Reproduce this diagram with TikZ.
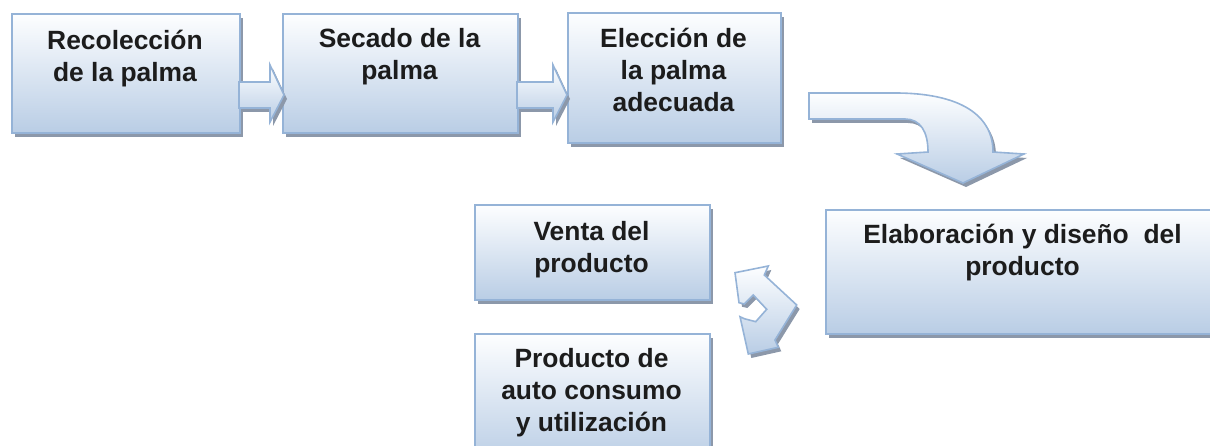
\documentclass[tikz,border=0pt]{standalone}
\usepackage{fontspec}
\setmainfont{Liberation Sans}
\usetikzlibrary{shadows}
\definecolor{bordercol}{RGB}{149,179,215}
\definecolor{boxbot}{RGB}{185,205,229}
\definecolor{boxtop}{RGB}{253,254,255}
\definecolor{shadowcol}{RGB}{140,152,170}
\definecolor{txtcol}{RGB}{28,28,28}
\begin{document}
\begin{tikzpicture}[x=1pt,y=-1pt,
  myshadow/.style={drop shadow={shadow xshift=3pt,shadow yshift=-4pt,fill=shadowcol,opacity=1}},
  boxstyle/.style={rectangle, draw=bordercol, line width=2pt, top color=boxtop, bottom color=boxbot,
    myshadow, inner sep=0pt, anchor=north west},
  shapestyle/.style={draw=bordercol, line width=1.6pt, line join=miter, top color=boxtop, bottom color=boxbot, myshadow},
  txt/.style={font=\fontsize{26.4}{32}\selectfont\bfseries, text=txtcol, align=center, anchor=north, inner sep=0pt}]
\path[use as bounding box, clip] (0,0) rectangle (1210,446);

% boxes
\node[boxstyle, minimum width=228pt, minimum height=119pt] (b1) at (11,13) {};
\node[boxstyle, minimum width=235pt, minimum height=119pt] (b2) at (282,13) {};
\node[boxstyle, minimum width=213pt, minimum height=130pt] (b3) at (567,12) {};
\node[boxstyle, minimum width=400pt, minimum height=124pt] (b4) at (825,209) {};
\node[boxstyle, minimum width=235pt, minimum height=95pt] (b5) at (474,204) {};
\node[boxstyle, minimum width=235pt, minimum height=130pt] (b6) at (474,333) {};

% texts
\node[txt] (t1) at (125,27) {\rule{0pt}{22pt}Recolección\\de la palma};
\node[txt] (t2) at (399.5,25) {\rule{0pt}{22pt}Secado de la\\palma};
\node[txt] (t3) at (673.5,25) {\rule{0pt}{22pt}Elección de\\la palma\\adecuada};
\node[txt] (t4) at (1022.5,221) {\rule{0pt}{22pt}Elaboración y diseño\ \ del\\producto};
\node[txt] (t5) at (591.5,218) {\rule{0pt}{22pt}Venta del\\producto};
\node[txt] (t6) at (591.5,345) {\rule{0pt}{22pt}Producto de\\auto consumo\\y utilización};

% block arrows
\draw[shapestyle] (239,82) -- (270,82) -- (270,65) -- (284,95) -- (270,122) -- (270,108) -- (239,108) -- cycle;
\draw[shapestyle] (517,82) -- (553,82) -- (553,65) -- (567,95) -- (553,122) -- (553,108) -- (517,108) -- cycle;

% curved arrow
\draw[shapestyle] (809,93) -- (895,93) .. controls (960,93) and (993,115) .. (993,152)
  -- (1024,154) -- (963,183) -- (897,154) -- (928,152)
  .. controls (928,131) and (920,119) .. (905,119) -- (809,119) -- cycle;

% double chevron arrow
\draw[shapestyle] (735,272.7) -- (768.3,266) -- (764.3,275) -- (796.7,305) -- (775,340)
  -- (778.3,347.3) -- (748.3,354) -- (740,316.7) -- (744.3,318.7) -- (755.7,321.7)
  -- (766.7,309.3) -- (753.3,295) -- (744.3,304) -- (739,302.7) -- cycle;
\end{tikzpicture}
\end{document}
